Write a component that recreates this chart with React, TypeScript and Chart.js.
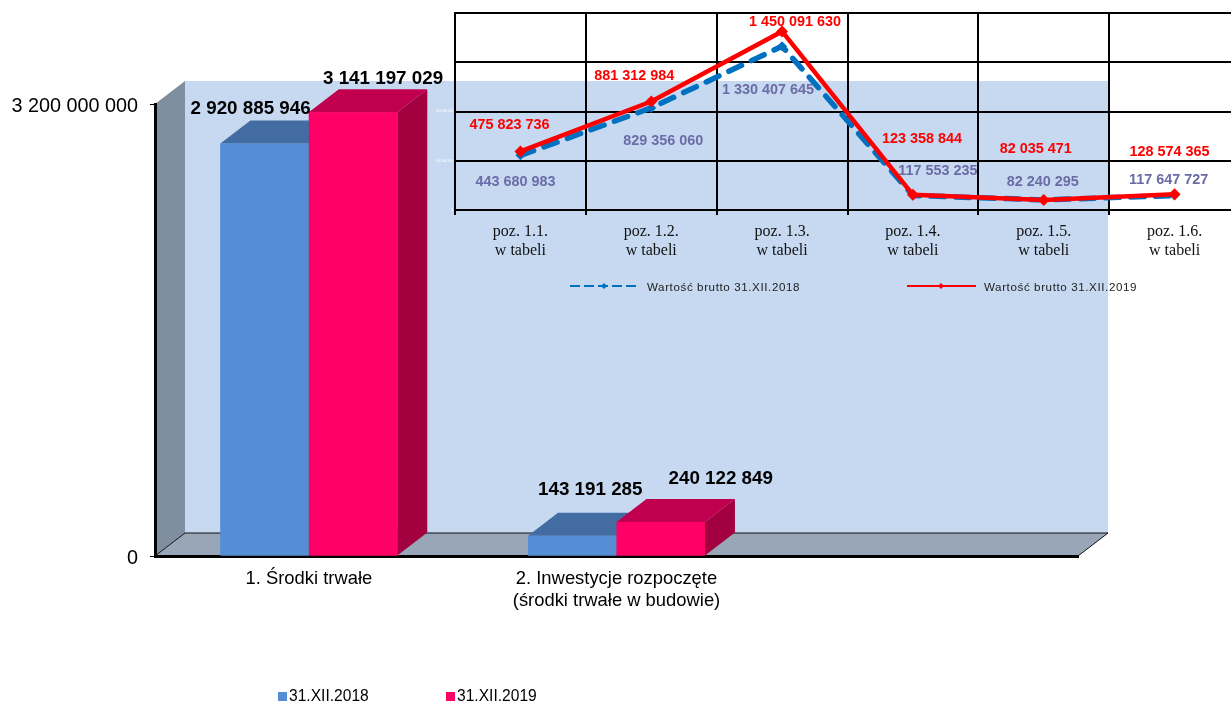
import React, { useEffect, useRef } from "react";
import { Chart, registerables } from "chart.js";

Chart.register(...registerables);

const barCategories: (string | string[])[] = ["1. Środki trwałe", ["2. Inwestycje rozpoczęte", "(środki trwałe w budowie)"], ""];
const bars2018 = [2920885946, 143191285, null];
const bars2019 = [3141197029, 240122849, null];
const barLegend = ["31.XII.2018", "31.XII.2019"];

const lineCategories = [
  ["poz. 1.1.", "w tabeli"],
  ["poz. 1.2.", "w tabeli"],
  ["poz. 1.3.", "w tabeli"],
  ["poz. 1.4.", "w tabeli"],
  ["poz. 1.5.", "w tabeli"],
  ["poz. 1.6.", "w tabeli"],
];
const brutto2018 = [443680983, 829356060, 1330407645, 117553235, 82240295, 117647727];
const brutto2019 = [475823736, 881312984, 1450091630, 123358844, 82035471, 128574365];
const lineLegend = ["Wartość brutto 31.XII.2018", "Wartość brutto 31.XII.2019"];

const SANS = '"Liberation Sans", Arial, sans-serif';
const SERIF = '"Liberation Serif", "Times New Roman", serif';
const DX = 30;
const DY = 23;

const barStyles = [
  { front: "#558ed5", top: "#426ca2", side: "#426ca2" },
  { front: "#ff0066", top: "#c0004e", side: "#a2003f" },
];
const barLabelOffsets = [
  [[-14, -35], [18, -46]],
  [[30, -33], [60, -43]],
];
const lineLabelOffsets = [
  [[-5, 27], [12, 33], [-14, 44], [25, -24], [-1, -18], [-6, -15]],
  [[-11, -26], [-17, -25], [13, -9], [9, -56], [-8, -51], [-5, -42]],
];

const fmt = (v: number) => String(v).replace(/\B(?=(\d{3})+(?!\d))/g, " ");

const poly = (ctx: CanvasRenderingContext2D, pts: number[][], fill: string, stroke?: string) => {
  ctx.beginPath();
  pts.forEach((p, i) => (i ? ctx.lineTo(p[0], p[1]) : ctx.moveTo(p[0], p[1])));
  ctx.closePath();
  ctx.fillStyle = fill;
  ctx.fill();
  if (stroke) {
    ctx.strokeStyle = stroke;
    ctx.lineWidth = 1;
    ctx.stroke();
  }
};

const roomPlugin = {
  id: "room",
  beforeDraw(chart: any) {
    const { ctx, chartArea: a } = chart;
    ctx.save();
    poly(ctx, [[a.left + DX, a.top - DY], [a.right + DX, a.top - DY], [a.right + DX, a.bottom - DY], [a.left + DX, a.bottom - DY]], "#c6d9f1");
    poly(ctx, [[a.left, a.top], [a.left + DX, a.top - DY], [a.left + DX, a.bottom - DY], [a.left, a.bottom]], "#7f8f9f");
    poly(ctx, [[a.left, a.bottom], [a.left + DX, a.bottom - DY], [a.right + DX, a.bottom - DY], [a.right, a.bottom]], "#98a6b7", "#111");
    ctx.restore();
  },
  afterDatasetsDraw(chart: any) {
    const { ctx } = chart;
    ctx.save();
    // Paint each series in turn so that the later one overlaps the earlier one, as in a 3D column chart.
    chart.data.datasets.forEach((ds: any, d: number) => {
      const st = barStyles[d];
      chart.getDatasetMeta(d).data.forEach((el: any, i: number) => {
        if (ds.data[i] == null) return;
        const l = el.x - el.width / 2;
        const r = el.x + el.width / 2;
        poly(ctx, [[l, el.y], [l + DX, el.y - DY], [r + DX, el.y - DY], [r, el.y]], st.top);
        poly(ctx, [[r, el.y], [r + DX, el.y - DY], [r + DX, el.base - DY], [r, el.base]], st.side);
        el.draw(ctx);
      });
    });
    ctx.font = `bold 18.8px ${SANS}`;
    ctx.fillStyle = "#000";
    ctx.textAlign = "center";
    ctx.textBaseline = "middle";
    chart.data.datasets.forEach((ds: any, d: number) => {
      chart.getDatasetMeta(d).data.forEach((el: any, i: number) => {
        const v = ds.data[i];
        if (v == null) return;
        const o = barLabelOffsets[d][i];
        ctx.fillText(fmt(v), el.x + o[0], el.y + o[1]);
      });
    });
    ctx.font = `15.6px ${SANS}`;
    ctx.textAlign = "left";
    const xs = [278, 446];
    chart.data.datasets.forEach((ds: any, d: number) => {
      ctx.fillStyle = ds.backgroundColor;
      ctx.fillRect(xs[d], 692, 9, 9);
      ctx.fillStyle = "#000";
      ctx.fillText(barLegend[d], xs[d] + 11, 697);
    });
    ctx.restore();
  },
};

const linePlugin = {
  id: "lineExtras",
  afterDatasetsDraw(chart: any) {
    const { ctx } = chart;
    ctx.save();
    ctx.font = `bold 14.4px ${SANS}`;
    ctx.textAlign = "center";
    ctx.textBaseline = "middle";
    const labelColors = ["#6b6ba6", "#ff0000"];
    chart.data.datasets.forEach((ds: any, d: number) => {
      ctx.fillStyle = labelColors[d];
      chart.getDatasetMeta(d).data.forEach((el: any, i: number) => {
        const o = lineLabelOffsets[d][i];
        ctx.fillText(fmt(ds.data[i]), el.x + o[0], el.y + o[1]);
      });
    });
    const xs = [570, 907];
    ctx.textAlign = "left";
    ctx.font = `11.6px ${SANS}`;
    (ctx as any).letterSpacing = "0.6px";
    chart.data.datasets.forEach((ds: any, d: number) => {
      ctx.strokeStyle = ds.borderColor;
      ctx.lineWidth = 2.2;
      ctx.setLineDash(d === 0 ? [10, 4] : []);
      ctx.beginPath();
      ctx.moveTo(xs[d], 286);
      ctx.lineTo(xs[d] + 69, 286);
      ctx.stroke();
      ctx.setLineDash([]);
      ctx.fillStyle = ds.borderColor;
      ctx.beginPath();
      const cx = xs[d] + 34;
      ctx.moveTo(cx, 283);
      ctx.lineTo(cx + 3, 286);
      ctx.lineTo(cx, 289);
      ctx.lineTo(cx - 3, 286);
      ctx.closePath();
      ctx.fill();
      ctx.fillStyle = "#222";
      ctx.fillText(lineLegend[d], xs[d] + 77, 288);
    });
    ctx.restore();
  },
};

export default function App() {
  const barRef = useRef<HTMLCanvasElement>(null);
  const lineRef = useRef<HTMLCanvasElement>(null);

  useEffect(() => {
    const barChart = new Chart(barRef.current!, {
      type: "bar",
      data: {
        labels: barCategories as any,
        datasets: [
          { label: barLegend[0], data: bars2018, backgroundColor: barStyles[0].front, categoryPercentage: 0.575, barPercentage: 1 },
          { label: barLegend[1], data: bars2019, backgroundColor: barStyles[1].front, categoryPercentage: 0.575, barPercentage: 1 },
        ] as any,
      },
      options: {
        animation: false,
        responsive: false,
        layout: { padding: { top: 104, right: 153, bottom: 0, left: 0 } },
        plugins: { legend: { display: false }, tooltip: { enabled: false } },
        scales: {
          x: {
            grid: { display: false, drawTicks: false },
            border: { color: "#000", width: 3 },
            ticks: { color: "#000", padding: 12, maxRotation: 0, font: { family: SANS, size: 18.4, lineHeight: "22px" } },
            afterFit: (s: any) => { s.height = 146; },
          },
          y: {
            min: 0,
            max: 3200000000,
            grid: { drawOnChartArea: false, color: "#000", tickLength: 5 },
            border: { color: "#000", width: 3 },
            ticks: { color: "#000", stepSize: 3200000000, padding: 12, labelOffset: 3, font: { family: SANS, size: 19.8 }, callback: (v: any) => fmt(v) },
            afterFit: (s: any) => { s.width = 155; },
          },
        },
      },
      plugins: [roomPlugin],
    } as any);

    const lineChart = new Chart(lineRef.current!, {
      type: "line",
      data: {
        labels: lineCategories as any,
        datasets: [
          {
            label: lineLegend[0], data: brutto2018, borderColor: "#0070c0", backgroundColor: "#0070c0", borderWidth: 5.5,
            borderDash: [14, 11], borderCapStyle: "round", pointStyle: "rectRot", pointRadius: 5, pointBackgroundColor: "#0070c0", pointBorderWidth: 0, tension: 0, order: 1,
          },
          {
            label: lineLegend[1], data: brutto2019, borderColor: "#ff0000", backgroundColor: "#ff0000", borderWidth: 4.5,
            pointStyle: "rectRot", pointRadius: 6, pointBackgroundColor: "#ff0000", pointBorderWidth: 0, tension: 0, order: 0,
          },
        ] as any,
      },
      options: {
        animation: false,
        responsive: false,
        layout: { padding: { top: 13, right: 60, bottom: 0, left: 400 } },
        plugins: { legend: { display: false }, tooltip: { enabled: false } },
        scales: {
          x: {
            offset: true,
            grid: { offset: true, color: "#000", lineWidth: 2, tickLength: 5 },
            border: { color: "#000", width: 2 },
            ticks: { color: "#111", padding: 7, maxRotation: 0, font: { family: SERIF, size: 16, lineHeight: "19px" } },
            afterFit: (s: any) => { s.height = 492; },
          },
          y: {
            min: 0,
            max: 1600000000,
            grid: { color: "#000", lineWidth: 2, drawTicks: false },
            border: { color: "#000", width: 2 },
            ticks: { color: "#ffffff", stepSize: 400000000, padding: 2, font: { family: SANS, size: 3 }, callback: (v: any) => fmt(v) },
            afterFit: (s: any) => { s.width = 55; },
          },
        },
      },
      plugins: [linePlugin],
    } as any);

    return () => {
      barChart.destroy();
      lineChart.destroy();
    };
  }, []);

  return (
    <div style={{ position: "fixed", left: 0, top: 0, width: 1231, height: 702, overflow: "hidden", background: "#fff" }}>
      <canvas ref={barRef} width={1231} height={702} style={{ position: "absolute", left: 0, top: 0 }} />
      <canvas ref={lineRef} width={1300} height={702} style={{ position: "absolute", left: 0, top: 0 }} />
    </div>
  );
}
